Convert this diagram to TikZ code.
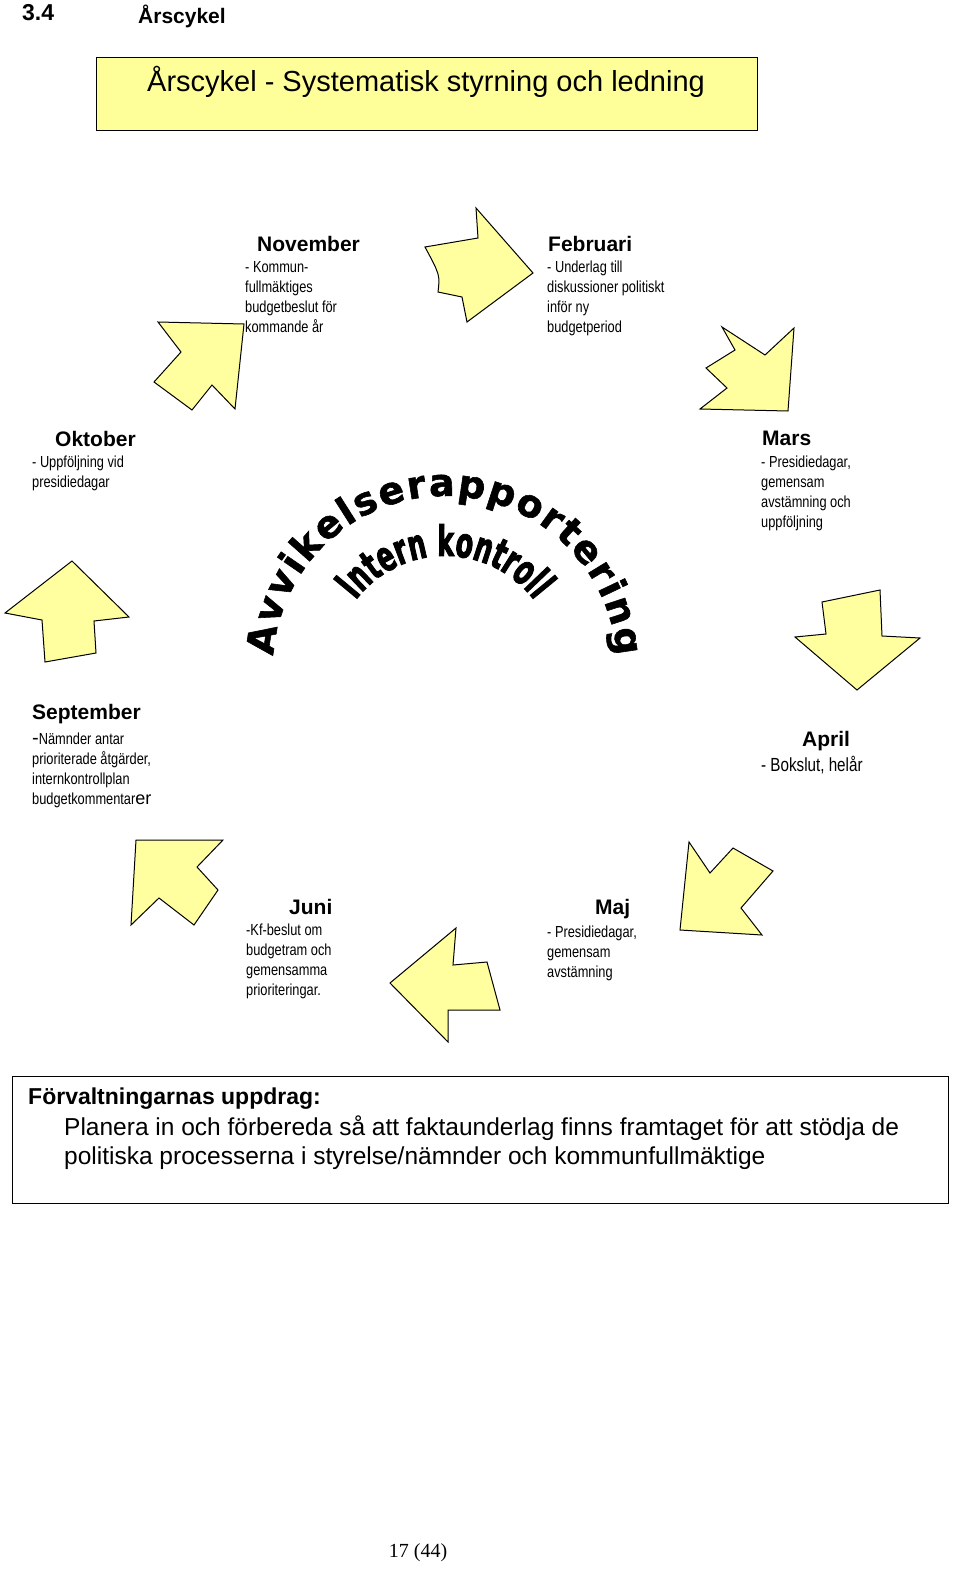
\documentclass[tikz,border=0pt]{standalone}
\usepackage{fontspec}
\setmainfont{Liberation Sans}
\newfontfamily\narrow[FakeStretch=0.8]{Liberation Sans}
\newfontfamily\heavy[FakeBold=1.5]{DejaVu Sans}
\newfontfamily\heavyn[FakeStretch=0.6,FakeBold=2]{DejaVu Sans}
\newfontfamily\serif{Liberation Serif}
\usetikzlibrary{decorations.text}
\definecolor{arrowfill}{RGB}{255,255,160}
\definecolor{titlefill}{RGB}{255,255,153}
\begin{document}
\begin{tikzpicture}[x=1pt,y=1pt,
  arr/.style={draw=black,fill=arrowfill,line width=1pt,line join=miter},
  head/.style={anchor=north west,inner sep=0pt,font=\fontsize{21}{21}\selectfont\bfseries},
  body/.style={anchor=north west,inner sep=0pt,align=left,font=\narrow\fontsize{16}{20}\selectfont}]
\useasboundingbox (0,0) rectangle (960,-1579);
\node[anchor=north west,inner sep=0pt,font=\fontsize{23}{23}\selectfont\bfseries] (num) at (22,-4) {3.4};
\node[anchor=north west,inner sep=0pt,font=\fontsize{21}{21}\selectfont\bfseries] (hdr) at (138,-5) {Årscykel};
\node[draw,fill=titlefill,line width=1pt,minimum width=661,minimum height=73,anchor=north west,inner sep=0pt] (title) at (96,-57) {};
\node[font=\fontsize{29}{29}\selectfont] at (426,-82) {Årscykel - Systematisk styrning och ledning};
% arrows
\draw[arr] (425,-247) -- (478,-238) -- (476,-208) -- (533,-273) -- (467,-322) -- (462,-297) -- (438,-292) .. controls (440,-275) .. (425,-247) -- cycle;
\draw[arr] (158,-322) -- (244,-324) -- (235,-409) -- (212,-385) -- (192,-410) -- (154,-382) -- (181,-352) -- cycle;
\draw[arr] (722,-327) -- (765,-355) -- (794,-328) -- (788,-411) -- (700,-409) -- (727,-388) -- (706,-368) -- (735,-350) -- cycle;
\draw[arr] (72,-561) -- (129,-617) -- (94,-621) -- (96,-653) -- (45,-662) -- (42,-620) -- (5,-613) -- cycle;
\draw[arr] (880,-590) -- (882,-636) -- (920,-638) -- (857,-690) -- (795,-637) -- (826,-634) -- (822,-602) -- cycle;
\draw[arr] (689,-842) -- (710,-873) -- (733,-848) -- (773,-871) -- (741,-908) -- (762,-935) -- (680,-930) -- cycle;
\draw[arr] (136,-840) -- (223,-840) -- (197,-867) -- (218,-890) -- (194,-925) -- (159,-898) -- (131,-925) -- cycle;
\draw[arr] (456,-928) -- (453,-965) -- (487,-962) -- (500,-1010) -- (448,-1010) -- (448,-1042) -- (390,-983) -- cycle;
% arc texts
\path[decorate,decoration={text along path,text align=fit to path,
  text={|\heavy\fontsize{38}{38}\selectfont\bfseries|Avvikelserapportering}}]
  (445,-668) ++(176:172) arc[start angle=176,end angle=4,radius=172];
\path[decorate,decoration={text along path,text align=center,
  text={|\heavyn\fontsize{42}{42}\selectfont\bfseries|Intern kontroll}}]
  (445,-668) ++(170:112) arc[start angle=170,end angle=10,radius=112];
% month texts
\node[head] (nov) at (257,-236) {November};
\node[body] (novb) at (245,-261) {- Kommun-\\fullmäktiges\\budgetbeslut för\\kommande år};
\node[head] (feb) at (548,-236) {Februari};
\node[body] (febb) at (547,-261) {- Underlag till\\diskussioner politiskt\\inför ny\\budgetperiod};
\node[head] (okt) at (55,-431) {Oktober};
\node[body] (oktb) at (32,-456) {- Uppföljning vid\\presidiedagar};
\node[head] (mar) at (762,-431) {Mars};
\node[body] (marb) at (761,-456) {- Presidiedagar,\\gemensam\\avstämning och\\uppföljning};
\node[head] (sep) at (32,-704) {September};
\node[body] (sepb) at (32,-733) {{\normalfont\fontsize{20}{20}\selectfont-}Nämnder antar\\prioriterade åtgärder,\\internkontrollplan\\budgetkommentar{\normalfont\fontsize{18}{18}\selectfont er}};
\node[head] (apr) at (802,-731) {April};
\node[body,font=\narrow\fontsize{19}{22}\selectfont] (aprb) at (761,-756) {- Bokslut, helår};
\node[head] (jun) at (289,-899) {Juni};
\node[body] (junb) at (246,-924) {-Kf-beslut om\\budgetram och\\gemensamma\\prioriteringar.};
\node[head] (maj) at (595,-899) {Maj};
\node[body] (majb) at (547,-926) {- Presidiedagar,\\gemensam\\avstämning};
% bottom box
\node[draw,line width=1pt,minimum width=936,minimum height=127,anchor=north west,inner sep=0pt] (box) at (12,-1076) {};
\node[anchor=north west,inner sep=0pt,font=\fontsize{23}{23}\selectfont\bfseries] (bh) at (28,-1088) {Förvaltningarnas uppdrag:};
\node[anchor=north west,inner sep=0pt,align=left,font=\fontsize{24.5}{29}\selectfont] (bt) at (64,-1116) {Planera in och förbereda så att faktaunderlag finns framtaget för att stödja de\\politiska processerna i styrelse/nämnder och kommunfullmäktige};
\node[font=\serif\fontsize{20}{20}\selectfont] (pg) at (418,-1553) {17 (44)};
\end{tikzpicture}
\end{document}
